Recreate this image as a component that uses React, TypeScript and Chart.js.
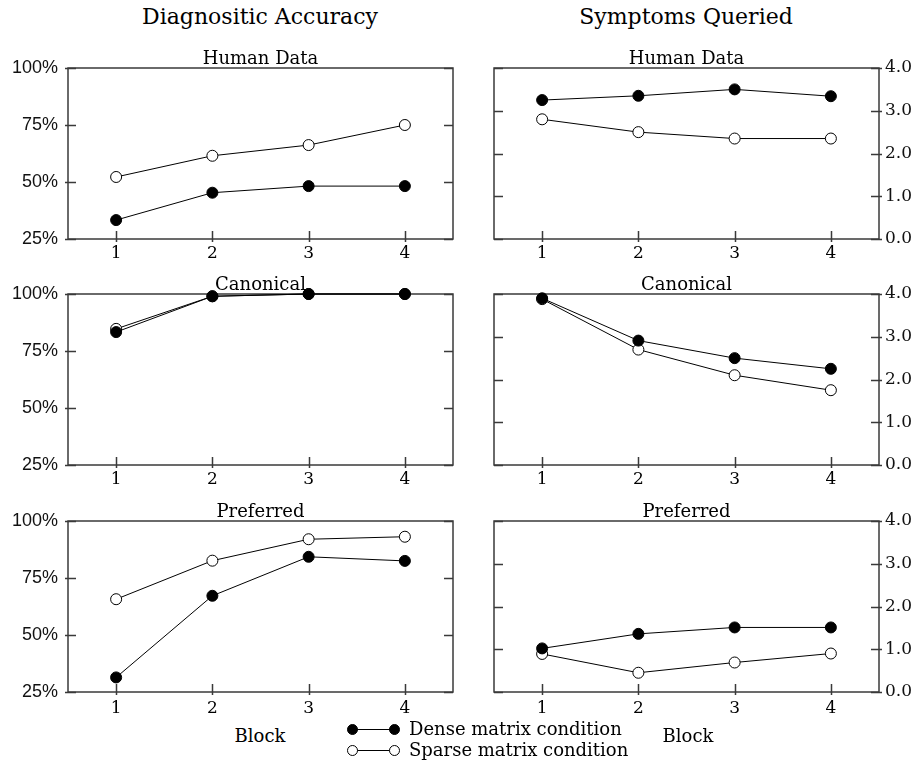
import React, { useEffect, useRef } from "react";
import { Chart, registerables } from "chart.js";

Chart.register(...registerables);

// ---------- data ----------
const blocks = ["1", "2", "3", "4"];

const accHumanDense = [33.3, 45.3, 48.2, 48.2];
const accHumanSparse = [52.2, 61.5, 66.2, 75.0];
const accCanonDense = [83.3, 99.0, 100, 100];
const accCanonSparse = [84.7, 99.0, 100, 100];
const accPrefDense = [31.4, 67.2, 84.3, 82.5];
const accPrefSparse = [65.7, 82.6, 92.0, 93.1];

const symHumanDense = [3.25, 3.35, 3.5, 3.34];
const symHumanSparse = [2.8, 2.5, 2.35, 2.35];
const symCanonDense = [3.9, 2.91, 2.5, 2.25];
const symCanonSparse = [3.88, 2.7, 2.1, 1.75];
const symPrefDense = [1.02, 1.36, 1.51, 1.51];
const symPrefSparse = [0.89, 0.45, 0.69, 0.9];

const accTicks = [25, 50, 75, 100];
const symTicks = [0, 1, 2, 3, 4];

const panelTitles = ["Human Data", "Canonical", "Preferred"];
const columnTitles = ["Diagnositic Accuracy", "Symptoms Queried"];
const xAxisTitle = "Block";
const seriesNames = ["Dense matrix condition", "Sparse matrix condition"];

// ---------- layout ----------
const SERIF = '"DejaVu Serif", serif';
const SANS = '"Liberation Sans", sans-serif';
const ROW_TOPS = [68, 294, 521];
const PLOT_H = 171;
const PAD_TOP = 34;
const X_AXIS_H = 30;
const X_LABEL_PAD = [4, 4, 6];

const framePlugin = {
  id: "frameTicks",
  beforeDatasetsDraw(chart: any, _args: any, opts: any) {
    const { ctx, chartArea: a } = chart;
    const xs = chart.scales.x;
    const ys = chart.scales.y;
    ctx.save();
    ctx.strokeStyle = "#3a3a3a";
    ctx.lineWidth = 1.5;
    ctx.strokeRect(a.left, a.top, a.right - a.left, a.bottom - a.top);
    ctx.beginPath();
    xs.ticks.forEach((_t: any, i: number) => {
      const px = Math.round(xs.getPixelForTick(i)) + 0.5;
      ctx.moveTo(px, a.bottom + 3);
      ctx.lineTo(px, a.bottom - 8);
    });
    ys.ticks.forEach((_t: any, i: number) => {
      const py = Math.round(ys.getPixelForTick(i)) + 0.5;
      if (opts.side === "left") {
        ctx.moveTo(a.left - 3, py);
        ctx.lineTo(a.left + 8, py);
        ctx.moveTo(a.right - 9, py);
        ctx.lineTo(a.right, py);
      } else {
        ctx.moveTo(a.left, py);
        ctx.lineTo(a.left + 9, py);
        ctx.moveTo(a.right - 8, py);
        ctx.lineTo(a.right + 3, py);
      }
    });
    ctx.stroke();
    ctx.fillStyle = "#000";
    ctx.font = "18px " + SERIF;
    ctx.textAlign = "center";
    ctx.textBaseline = "alphabetic";
    ctx.fillText(opts.title, (a.left + a.right) / 2, a.top - 4.5);
    ctx.restore();
  },
};

type PanelProps = {
  side: "left" | "right";
  row: number;
  title: string;
  dense: number[];
  sparse: number[];
};

function Panel({ side, row, title, dense, sparse }: PanelProps) {
  const ref = useRef<HTMLCanvasElement>(null);
  const left = side === "left" ? 0 : 470;
  const width = side === "left" ? 470 : 450;
  const height = PAD_TOP + PLOT_H + X_AXIS_H;
  const top = ROW_TOPS[row] - PAD_TOP;

  useEffect(() => {
    if (!ref.current) return;
    const isLeft = side === "left";
    const tickVals = isLeft ? accTicks : symTicks;
    const chart = new Chart(ref.current, {
      type: "line",
      data: {
        labels: blocks,
        datasets: [
          {
            label: seriesNames[0],
            data: dense,
            borderColor: "#000",
            borderWidth: 1,
            backgroundColor: "#000",
            pointBackgroundColor: "#000",
            pointBorderColor: "#000",
            pointBorderWidth: 1,
            pointRadius: 5.5,
            tension: 0,
            clip: false as any,
          },
          {
            label: seriesNames[1],
            data: sparse,
            borderColor: "#000",
            borderWidth: 1,
            backgroundColor: "#fff",
            pointBackgroundColor: "#fff",
            pointBorderColor: "#000",
            pointBorderWidth: 1,
            pointRadius: 5.5,
            tension: 0,
            clip: false as any,
          },
        ],
      },
      options: {
        animation: false,
        responsive: false,
        devicePixelRatio: 1,
        events: [],
        layout: {
          padding: {
            top: PAD_TOP,
            bottom: 0,
            left: isLeft ? 0 : 24,
            right: isLeft ? 17 : 0,
          },
        },
        plugins: {
          legend: { display: false },
          tooltip: { enabled: false },
          title: { display: false },
          frameTicks: { side, title } as any,
        } as any,
        scales: {
          x: {
            type: "category",
            offset: true,
            grid: { display: false, drawTicks: false },
            border: { display: false },
            ticks: {
              color: "#000",
              padding: X_LABEL_PAD[row],
              font: { family: SERIF, size: 17 },
              maxRotation: 0,
            },
            afterFit(scale: any) {
              scale.height = X_AXIS_H;
            },
          },
          y: {
            type: "linear",
            position: isLeft ? "left" : "right",
            min: tickVals[0],
            max: tickVals[tickVals.length - 1],
            grid: { display: false, drawTicks: false },
            border: { display: false },
            afterBuildTicks(scale: any) {
              scale.ticks = tickVals.map((v) => ({ value: v }));
            },
            ticks: {
              color: "#111",
              padding: isLeft ? 10 : 6,
              font: isLeft
                ? { family: SANS, size: 18 }
                : { family: SERIF, size: 17 },
              callback: (v: any) =>
                isLeft ? `${v}%` : Number(v).toFixed(1),
            },
            afterFit(scale: any) {
              scale.width = isLeft ? 68 : 41;
            },
          },
        },
      },
      plugins: [framePlugin],
    });
    return () => chart.destroy();
  }, [side, row, title, dense, sparse]);

  return (
    <canvas
      ref={ref}
      width={width}
      height={height}
      style={{ position: "absolute", left, top, width, height }}
    />
  );
}

function Label({
  text,
  cx,
  cy,
  size,
}: {
  text: string;
  cx: number;
  cy: number;
  size: number;
}) {
  return (
    <div
      style={{
        position: "absolute",
        left: cx,
        top: cy,
        transform: "translate(-50%, -50%)",
        fontFamily: SERIF,
        fontSize: size,
        lineHeight: 1,
        whiteSpace: "nowrap",
        color: "#000",
      }}
    >
      {text}
    </div>
  );
}

function LegendRow({ y, filled, text }: { y: number; filled: boolean; text: string }) {
  const dot = (cx: number) => (
    <div
      style={{
        position: "absolute",
        left: cx - 5.5,
        top: y - 5.5,
        width: 11,
        height: 11,
        boxSizing: "border-box",
        borderRadius: "50%",
        border: "1px solid #000",
        background: filled ? "#000" : "#fff",
      }}
    />
  );
  return (
    <>
      <div
        style={{
          position: "absolute",
          left: 352,
          top: y - 0.5,
          width: 42,
          height: 0,
          borderTop: "1px solid #000",
        }}
      />
      {dot(352)}
      {dot(394)}
      <div
        style={{
          position: "absolute",
          left: 409,
          top: y,
          transform: "translateY(-50%)",
          fontFamily: SERIF,
          fontSize: 18,
          lineHeight: 1,
          whiteSpace: "nowrap",
          color: "#000",
        }}
      >
        {text}
      </div>
    </>
  );
}

export default function App() {
  return (
    <div
      style={{
        position: "absolute",
        left: 0,
        top: 0,
        width: 920,
        height: 764,
        background: "#fff",
        overflow: "hidden",
      }}
    >
      <Label text={columnTitles[0]} cx={260} cy={17} size={22} />
      <Label text={columnTitles[1]} cx={686} cy={17} size={22} />

      <Panel side="left" row={0} title={panelTitles[0]} dense={accHumanDense} sparse={accHumanSparse} />
      <Panel side="left" row={1} title={panelTitles[1]} dense={accCanonDense} sparse={accCanonSparse} />
      <Panel side="left" row={2} title={panelTitles[2]} dense={accPrefDense} sparse={accPrefSparse} />
      <Panel side="right" row={0} title={panelTitles[0]} dense={symHumanDense} sparse={symHumanSparse} />
      <Panel side="right" row={1} title={panelTitles[1]} dense={symCanonDense} sparse={symCanonSparse} />
      <Panel side="right" row={2} title={panelTitles[2]} dense={symPrefDense} sparse={symPrefSparse} />

      <Label text={xAxisTitle} cx={260} cy={736} size={18} />
      <Label text={xAxisTitle} cx={688} cy={736} size={18} />

      <LegendRow y={729} filled={true} text={seriesNames[0]} />
      <LegendRow y={750} filled={false} text={seriesNames[1]} />
    </div>
  );
}
